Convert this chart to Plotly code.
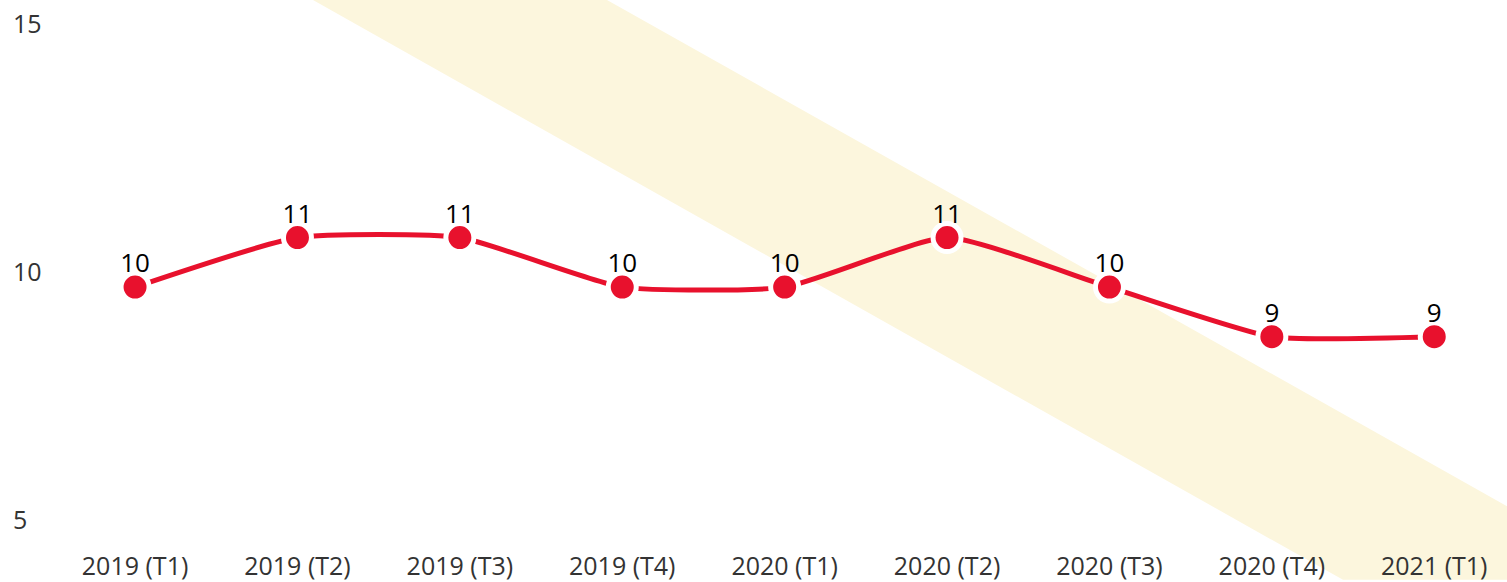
import plotly.graph_objects as go

categories = ["2019 (T1)", "2019 (T2)", "2019 (T3)", "2019 (T4)", "2020 (T1)",
              "2020 (T2)", "2020 (T3)", "2020 (T4)", "2021 (T1)"]
values = [9.7, 10.7, 10.7, 9.7, 9.7, 10.7, 9.7, 8.7, 8.7]
labels = [f"{round(v):d}" for v in values]
y_ticks = [5, 10, 15]

W, H = 1507, 582
L, R, T, B = 10, 0, 0, 37
pw, ph = W - L - R, H - T - B


def px(x):
    return (x - L) / pw


def py(y):
    return (H - B - y) / ph


band = [(313, 0), (607, 0), (1507, 508), (1507, 582), (1343, 582)]
path = "M " + " L ".join(f"{px(x):.5f},{py(y):.5f}" for x, y in band) + " Z"

fig = go.Figure()
fig.add_trace(go.Scatter(
    x=categories, y=values,
    mode="lines+markers",
    line=dict(color="#E8112D", width=5, shape="spline", smoothing=0.5),
    marker=dict(size=28, color="#E8112D", line=dict(color="white", width=5)),
    cliponaxis=False,
    hoverinfo="skip",
))
fig.add_trace(go.Scatter(
    x=categories, y=values,
    mode="markers+text",
    text=labels, textposition="top center",
    textfont=dict(family="Open Sans", size=26, color="#000"),
    marker=dict(size=12, opacity=0),
    cliponaxis=False,
    hoverinfo="skip",
))

fig.add_shape(type="path", path=path, xref="paper", yref="paper",
              fillcolor="#FCF6DD", line=dict(width=0), layer="below")

fig.update_layout(
    width=W, height=H,
    margin=dict(l=L, r=R, t=T, b=B),
    paper_bgcolor="white", plot_bgcolor="rgba(0,0,0,0)",
    showlegend=False,
    font=dict(family="Open Sans", size=25, color="#333"),
)
fig.update_xaxes(type="category", range=[-0.77, 8.448], showgrid=False,
                 zeroline=False, showline=False, ticks="",
                 ticklabelstandoff=6,
                 tickfont=dict(size=25, color="#333"))
fig.update_yaxes(range=[4.54, 15.49], tickvals=y_ticks, showgrid=False,
                 zeroline=False, showline=False, ticks="",
                 ticklabelposition="inside",
                 tickfont=dict(size=25, color="#333"))

fig.write_html("out.html", config={"displayModeBar": False},
               post_script="document.body.style.margin='0';")
